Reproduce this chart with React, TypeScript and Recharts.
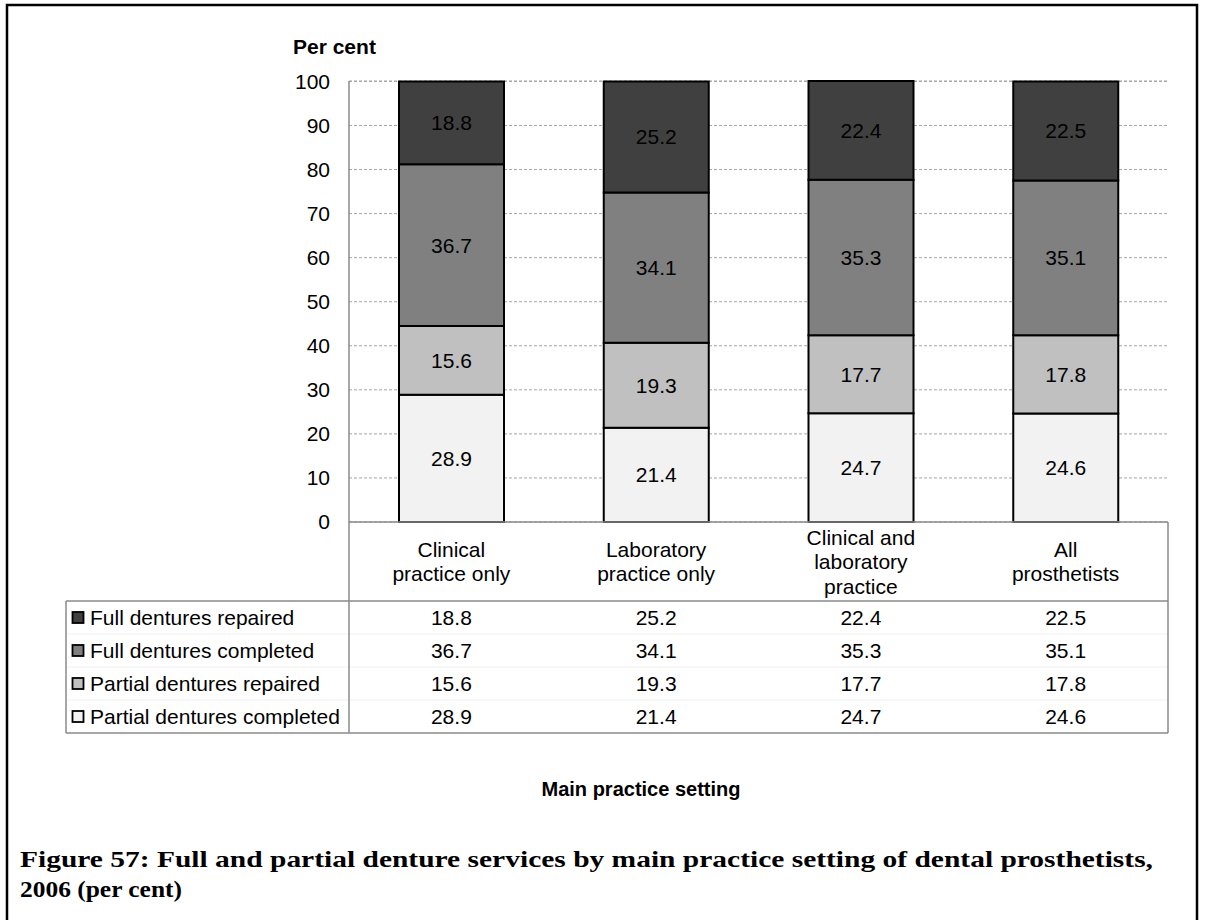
import React from 'react';
import { BarChart, Bar, XAxis, YAxis, CartesianGrid, LabelList } from 'recharts';

const categories = ['Clinical practice only', 'Laboratory practice only', 'Clinical and laboratory practice', 'All prosthetists'];
const categoryLines = [
  ['Clinical', 'practice only'],
  ['Laboratory', 'practice only'],
  ['Clinical and', 'laboratory', 'practice'],
  ['All', 'prosthetists'],
];
const fullRepaired = [18.8, 25.2, 22.4, 22.5];
const fullCompleted = [36.7, 34.1, 35.3, 35.1];
const partialRepaired = [15.6, 19.3, 17.7, 17.8];
const partialCompleted = [28.9, 21.4, 24.7, 24.6];
const yTicks = [0, 10, 20, 30, 40, 50, 60, 70, 80, 90, 100];

// table rows, top to bottom (stack order is reversed)
const series = [
  { key: 'fullRepaired', name: 'Full dentures repaired', values: fullRepaired, color: '#404040' },
  { key: 'fullCompleted', name: 'Full dentures completed', values: fullCompleted, color: '#808080' },
  { key: 'partialRepaired', name: 'Partial dentures repaired', values: partialRepaired, color: '#c0c0c0' },
  { key: 'partialCompleted', name: 'Partial dentures completed', values: partialCompleted, color: '#f2f2f2' },
];

const data = categories.map((c, i) => ({
  name: c,
  fullRepaired: fullRepaired[i],
  fullCompleted: fullCompleted[i],
  partialRepaired: partialRepaired[i],
  partialCompleted: partialCompleted[i],
}));

const FONT = '"Liberation Sans", Arial, sans-serif';
const PLOT_LEFT = 349;
const PLOT_RIGHT = 1168;
const PLOT_TOP = 81;
const PLOT_BOTTOM = 522;
const TABLE_LEFT = 66;
const HEAD_BOTTOM = 601;
const ROW_H = 33;
const TABLE_BOTTOM = HEAD_BOTTOM + ROW_H * 4;
const LINE = '#8a8a8a';

const CategoryTick = (props: any) => {
  const { x, y, payload } = props;
  const idx = categories.indexOf(payload.value);
  const lines = categoryLines[idx] || [payload.value];
  const lh = 24.5;
  const mid = y + (HEAD_BOTTOM - PLOT_BOTTOM) / 2;
  const start = mid - ((lines.length - 1) * lh) / 2;
  return (
    <g>
      {lines.map((l, i) => (
        <text key={i} x={x} y={start + i * lh} textAnchor="middle" dominantBaseline="central"
          fontSize={21} fontFamily={FONT} fill="#000">{l}</text>
      ))}
      {series.map((s, r) => (
        <text key={s.key} x={x} y={y + (HEAD_BOTTOM - PLOT_BOTTOM) + ROW_H * r + ROW_H / 2}
          textAnchor="middle" dominantBaseline="central" fontSize={21} fontFamily={FONT} fill="#000">
          {s.values[idx].toFixed(1)}
        </text>
      ))}
    </g>
  );
};

export default function App() {
  const stack = [...series].reverse();
  return (
    <div style={{ position: 'absolute', left: 0, top: 0, width: 1205, height: 920, background: '#fff', overflow: 'hidden' }}>
      <BarChart
        width={1205}
        height={920}
        data={data}
        margin={{ top: PLOT_TOP, right: 1205 - PLOT_RIGHT, bottom: 920 - TABLE_BOTTOM, left: PLOT_LEFT - 60 }}
      >
        <CartesianGrid vertical={false} stroke="#a6a6a6" strokeDasharray="3 2" />
        <XAxis dataKey="name" height={TABLE_BOTTOM - PLOT_BOTTOM} axisLine={false} tickLine={false}
          tickSize={0} tickMargin={0} interval={0} tick={<CategoryTick />} />
        <YAxis width={60} domain={[0, 100]} ticks={yTicks} axisLine={false} tickLine={false}
          tickSize={0} tickMargin={19} interval={0}
          tick={{ fontSize: 21, fontFamily: FONT, fill: '#000' }} />
        {stack.map((s) => (
          <Bar key={s.key} dataKey={s.key} stackId="a" fill={s.color} stroke="#000" strokeWidth={2}
            barSize={105} isAnimationActive={false}>
            <LabelList dataKey={s.key} position="center" fontSize={21} fontFamily={FONT} fill="#000"
              formatter={(v: any) => Number(v).toFixed(1)} />
          </Bar>
        ))}
      </BarChart>

      <svg width={1205} height={920} style={{ position: 'absolute', left: 0, top: 0, pointerEvents: 'none' }}>
        {/* outer frame */}
        <rect x={7} y={5} width={1190} height={940} fill="none" stroke="#000" strokeWidth={2.5} />
        {/* table lines */}
        {[1, 2, 3].map((r) => (
          <line key={r} x1={TABLE_LEFT} x2={PLOT_RIGHT} y1={HEAD_BOTTOM + ROW_H * r} y2={HEAD_BOTTOM + ROW_H * r}
            stroke="#f0f0f0" strokeWidth={1} />
        ))}
        <line x1={PLOT_LEFT} x2={PLOT_RIGHT} y1={PLOT_BOTTOM} y2={PLOT_BOTTOM} stroke={LINE} strokeWidth={1.5} />
        <line x1={TABLE_LEFT} x2={PLOT_RIGHT} y1={HEAD_BOTTOM} y2={HEAD_BOTTOM} stroke={LINE} strokeWidth={1.5} />
        <line x1={TABLE_LEFT} x2={PLOT_RIGHT} y1={TABLE_BOTTOM} y2={TABLE_BOTTOM} stroke={LINE} strokeWidth={1.5} />
        <line x1={PLOT_LEFT} x2={PLOT_LEFT} y1={PLOT_TOP} y2={TABLE_BOTTOM} stroke={LINE} strokeWidth={1.5} />
        <line x1={PLOT_RIGHT} x2={PLOT_RIGHT} y1={PLOT_BOTTOM} y2={TABLE_BOTTOM} stroke={LINE} strokeWidth={1.5} />
        <line x1={TABLE_LEFT} x2={TABLE_LEFT} y1={HEAD_BOTTOM} y2={TABLE_BOTTOM} stroke={LINE} strokeWidth={1.5} />
        {/* legend keys */}
        {series.map((s, r) => {
          const cy = HEAD_BOTTOM + ROW_H * r + ROW_H / 2;
          return (
            <g key={s.key}>
              <rect x={72.5} y={cy - 5.5} width={11} height={11} fill={s.color} stroke="#000" strokeWidth={1.8} />
              <text x={90} y={cy} dominantBaseline="central" fontSize={21} fontFamily={FONT} fill="#000">{s.name}</text>
            </g>
          );
        })}
        <text x={293} y={46} dominantBaseline="central" fontSize={21} fontWeight="bold" fontFamily={FONT} fill="#000">Per cent</text>
        <text x={641} y={789} textAnchor="middle" dominantBaseline="central" fontSize={20} fontWeight="bold" fontFamily={FONT} fill="#000">Main practice setting</text>
        {/* caption */}
        <g fontFamily='"Liberation Serif", serif' fontWeight="bold" fontSize={24} fill="#000">
          <text x={20} y={867} textLength={1133} lengthAdjust="spacingAndGlyphs">Figure 57: Full and partial denture services by main practice setting of dental prosthetists,</text>
          <text x={20} y={897} textLength={162} lengthAdjust="spacingAndGlyphs">2006 (per cent)</text>
        </g>
      </svg>
    </div>
  );
}
